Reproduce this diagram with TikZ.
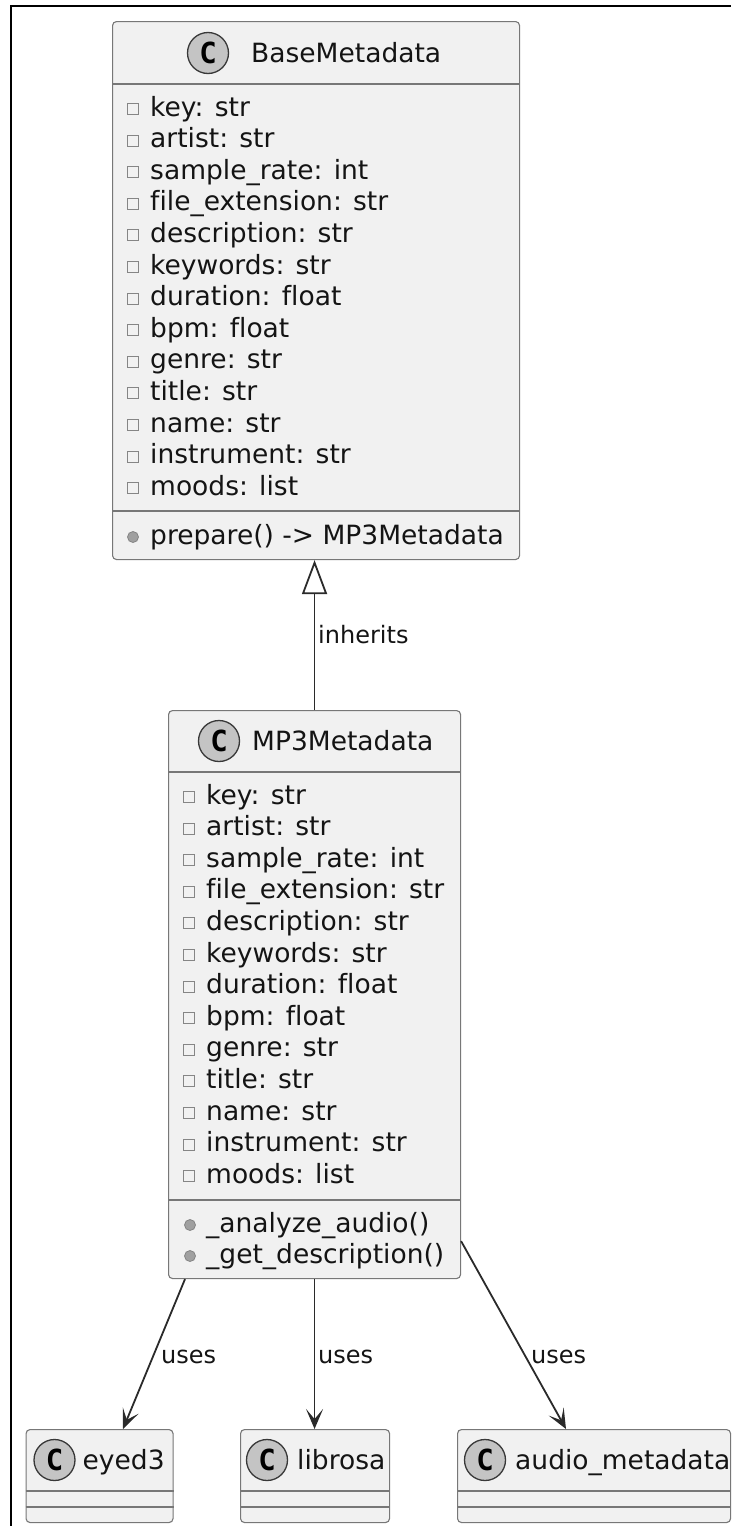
\documentclass[tikz,border=0pt]{standalone}
\usepackage{fontspec}
\setmainfont{DejaVu Sans}[Ligatures=NoCommon]
\newfontfamily\cfont{DejaVu Sans Mono}
\usetikzlibrary{arrows.meta,calc}
\definecolor{boxfill}{HTML}{F1F1F1}
\definecolor{boxline}{HTML}{777777}
\definecolor{spotfill}{HTML}{C4C4C4}
\definecolor{spotline}{HTML}{383838}
\definecolor{conn}{HTML}{2A2A2A}
\definecolor{icon}{HTML}{858585}
\definecolor{dotfill}{HTML}{A0A0A0}
\definecolor{txt}{HTML}{141414}
\begin{document}
\begin{tikzpicture}[x=1pt,y=-1pt,
  classbox/.style={draw=boxline, fill=boxfill, line width=1.1pt, rounded corners=4pt, inner sep=0pt, anchor=north west},
  divider/.style={draw=boxline, line width=1.1pt},
  spot/.style={circle, draw=spotline, fill=spotfill, line width=1.3pt, minimum size=41pt, inner sep=0pt, font={\cfont\bfseries\fontsize{29}{29}\selectfont}},
  ttl/.style={inner sep=0pt, anchor=base west, text=txt, font={\fontsize{26.5}{30}\selectfont}},
  fieldtxt/.style={inner sep=0pt, anchor=base west, text=txt, font={\fontsize{26.5}{30}\selectfont}},
  privsq/.style={draw=icon, line width=1pt, minimum size=11pt, inner sep=0pt},
  pubdot/.style={circle, draw=icon, fill=dotfill, line width=0.8pt, minimum size=11pt, inner sep=0pt},
  lbl/.style={inner sep=0pt, anchor=base west, text=txt, font={\fontsize{24}{28}\selectfont}},
  conline/.style={draw=conn, line width=1.8pt},
  usesarrow/.style={conline, -{Stealth[length=20pt, width=17pt, inset=10pt]}},
  inharrow/.style={conline, -{Triangle[length=34pt, width=25pt, fill=white]}}
]
\useasboundingbox (0,0) rectangle (731,1526);
% frame (cropped)
\draw[line width=2pt, black] (11,1526) -- (11,6) -- (731,6);

% ---------------- BaseMetadata ----------------
\node[classbox, minimum width=407pt, minimum height=538pt] (base) at (112,21) {};
\draw[divider] ($(base.north west)+(0,63)$) -- ($(base.north east)+(0,63)$);
\draw[divider] ($(base.north west)+(0,490)$) -- ($(base.north east)+(0,490)$);
\node[spot] (basespot) at (208,53) {C};
\node[ttl] (basetitle) at (251,62) {BaseMetadata};
\foreach \t [count=\i from 0] in {key: str, artist: str, sample\_rate: int, file\_extension: str, description: str, keywords: str, duration: float, bpm: float, genre: str, title: str, name: str, instrument: str, moods: list}{
  \node[privsq] (bsq\i) at (133,{109+31.6*\i}) {};
  \node[fieldtxt] (bf\i) at (150,{116+31.6*\i}) {\t};
}
\node[pubdot] (bdot0) at (133,537) {};
\node[fieldtxt] (bm0) at (150,544) {prepare() -> MP3Metadata};

% ---------------- MP3Metadata ----------------
\node[classbox, minimum width=292pt, minimum height=568pt] (mp3) at (168,710) {};
\draw[divider] ($(mp3.north west)+(0,62)$) -- ($(mp3.north east)+(0,62)$);
\draw[divider] ($(mp3.north west)+(0,490)$) -- ($(mp3.north east)+(0,490)$);
\node[spot] (mp3spot) at (219,741) {C};
\node[ttl] (mp3title) at (252,750) {MP3Metadata};
\foreach \t [count=\i from 0] in {key: str, artist: str, sample\_rate: int, file\_extension: str, description: str, keywords: str, duration: float, bpm: float, genre: str, title: str, name: str, instrument: str, moods: list}{
  \node[privsq] (msq\i) at (189,{797+31.6*\i}) {};
  \node[fieldtxt] (mf\i) at (206,{804+31.6*\i}) {\t};
}
\node[pubdot] (mdot0) at (190,1225) {};
\node[fieldtxt] (mm0) at (206,1232) {\_analyze\_audio()};
\node[pubdot] (mdot1) at (190,1256) {};
\node[fieldtxt] (mm1) at (206,1263) {\_get\_description()};

% ---------------- bottom classes ----------------
\node[classbox, minimum width=147pt, minimum height=93pt] (eyed3) at (25.5,1429) {};
\draw[divider] ($(eyed3.north west)+(0,62)$) -- ($(eyed3.north east)+(0,62)$);
\draw[divider] ($(eyed3.north west)+(0,78)$) -- ($(eyed3.north east)+(0,78)$);
\node[spot] (eyedspot) at (54.5,1460) {C};
\node[ttl] (eyedtitle) at (82.5,1469) {eyed3};

\node[classbox, minimum width=149pt, minimum height=93pt] (librosa) at (240,1429) {};
\draw[divider] ($(librosa.north west)+(0,62)$) -- ($(librosa.north east)+(0,62)$);
\draw[divider] ($(librosa.north west)+(0,78)$) -- ($(librosa.north east)+(0,78)$);
\node[spot] (librosaspot) at (267,1460) {C};
\node[ttl] (librosatitle) at (297,1469) {librosa};

\node[classbox, minimum width=273pt, minimum height=93pt] (audio) at (457,1429) {};
\draw[divider] ($(audio.north west)+(0,62)$) -- ($(audio.north east)+(0,62)$);
\draw[divider] ($(audio.north west)+(0,78)$) -- ($(audio.north east)+(0,78)$);
\node[spot] (audiospot) at (485,1460) {C};
\node[ttl] (audiotitle) at (515,1469) {audio\_metadata};

% ---------------- connectors ----------------
\draw[inharrow] (mp3.north) -- (mp3.north |- base.south);
\node[lbl] (inhlbl) at (318,643) {inherits};

\draw[usesarrow] ($(mp3.south west)+(17,0)$) -- ($(eyed3.north west)+(97.5,0)$);
\node[lbl] (uses1) at (161,1363) {uses};
\draw[usesarrow] (mp3.south) -- (mp3.south |- librosa.north);
\node[lbl] (uses2) at (318,1363) {uses};
\draw[usesarrow] ($(mp3.south east)+(0,-38)$) -- ($(audio.north west)+(109,0)$);
\node[lbl] (uses3) at (531,1363) {uses};
\end{tikzpicture}
\end{document}
